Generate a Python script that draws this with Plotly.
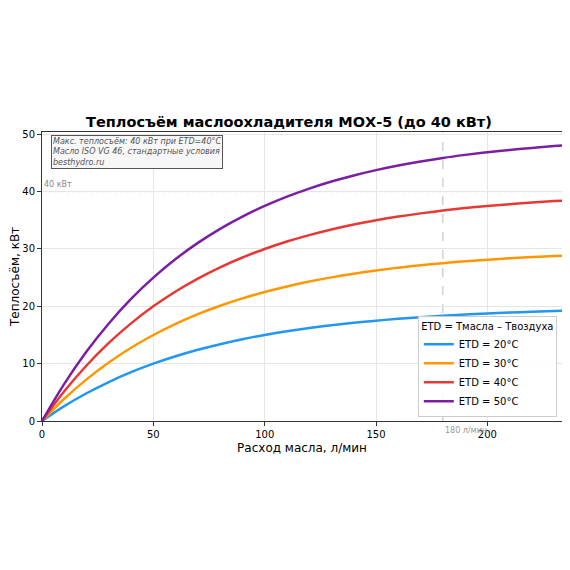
import plotly.graph_objects as go

# расход масла, л/мин
flow = [0, 10, 20, 30, 40, 50, 60, 70, 80, 90, 100, 110, 120, 130, 140,
        150, 160, 170, 180, 190, 200, 210, 220, 230, 235]

# теплосъём, кВт (по кривым с графика)
q_etd20 = [0, 2.59, 4.84, 6.80, 8.51, 10.0, 11.29, 12.42, 13.40, 14.26,
           15.0, 15.65, 16.21, 16.70, 17.13, 17.5, 17.82, 18.11, 18.35,
           18.56, 18.75, 18.91, 19.05, 19.18, 19.23]
q_etd30 = [0, 3.88, 7.26, 10.21, 12.77, 15.0, 16.94, 18.63, 20.10, 21.38,
           22.5, 23.47, 24.32, 25.05, 25.69, 26.25, 26.74, 27.16, 27.53,
           27.85, 28.13, 28.37, 28.58, 28.76, 28.85]
q_etd40 = [0, 5.18, 9.68, 13.61, 17.03, 20.0, 22.59, 24.84, 26.80, 28.51,
           30.0, 31.30, 32.42, 33.40, 34.26, 35.0, 35.65, 36.21, 36.70,
           37.13, 37.5, 37.82, 38.10, 38.35, 38.46]
q_etd50 = [0, 6.47, 12.11, 17.01, 21.29, 25.0, 28.24, 31.06, 33.51, 35.64,
           37.5, 39.12, 40.53, 41.76, 42.82, 43.75, 44.56, 45.26, 45.88,
           46.41, 46.88, 47.28, 47.63, 47.94, 48.08]

labels = ["ETD = 20°C", "ETD = 30°C", "ETD = 40°C", "ETD = 50°C"]
colors = ["#2196F3", "#FF9800", "#E53935", "#7B1FA2"]

max_power = 40
nominal_flow = 180

fig = go.Figure()

for q, name, color in zip([q_etd20, q_etd30, q_etd40, q_etd50], labels,
                          colors):
    fig.add_trace(
        go.Scatter(x=flow,
                   y=q,
                   mode="lines",
                   name=name,
                   line=dict(color=color, width=2.5, shape="spline")))

# линия максимального теплосъёма
fig.add_hline(y=max_power,
              line=dict(color="#aaaaaa", width=0.8, dash="dot"),
              layer="below")
fig.add_annotation(x=0,
                   y=max_power,
                   text="40 кВт",
                   showarrow=False,
                   xanchor="left",
                   yanchor="bottom",
                   xshift=0,
                   yshift=1,
                   font=dict(size=8, color="#888888"))

# номинальный расход
fig.add_vline(x=nominal_flow,
              line=dict(color="#bbbbbb", width=1, dash="dash"),
              layer="below")
fig.add_annotation(x=nominal_flow,
                   y=0,
                   text="180 л/мин",
                   showarrow=False,
                   xanchor="left",
                   yanchor="top",
                   xshift=0,
                   yshift=-3,
                   font=dict(size=8, color="#999999"))

fig.add_annotation(xref="paper",
                   yref="paper",
                   x=0.018,
                   y=0.988,
                   xanchor="left",
                   yanchor="top",
                   align="left",
                   showarrow=False,
                   text=("<i>Макс. теплосъём: 40 кВт при ETD=40°C<br>"
                         "Масло ISO VG 46, стандартные условия<br>"
                         "besthydro.ru</i>"),
                   font=dict(size=8, color="#555555"),
                   bgcolor="#f7f7f7",
                   bordercolor="#555555",
                   borderwidth=1,
                   borderpad=1)

fig.update_layout(
    width=562,
    height=562,
    paper_bgcolor="white",
    plot_bgcolor="white",
    font=dict(family="DejaVu Sans", color="black"),
    margin=dict(l=34, r=8, t=124, b=149, autoexpand=False),
    title=dict(text="<b>Теплосъём маслоохладителя МОХ-5 (до 40 кВт)</b>",
               x=0.5,
               xanchor="center",
               y=1 - 114 / 562,
               yanchor="middle",
               font=dict(size=14.5)),
    legend=dict(title=dict(text="ETD = Тмасла – Твоздуха",
                           font=dict(size=10),
                           side="top center"),
                font=dict(size=10),
                x=0.99,
                y=0.015,
                xanchor="right",
                yanchor="bottom",
                itemwidth=30,
                bgcolor="rgba(255,255,255,0.9)",
                bordercolor="#cccccc",
                borderwidth=1),
    showlegend=True,
)

fig.update_xaxes(range=[0, 233.5],
                 tickvals=[0, 50, 100, 150, 200],
                 automargin=False,
                 title=dict(text="Расход масла, л/мин",
                            font=dict(size=12),
                            standoff=4),
                 tickfont=dict(size=10),
                 showgrid=True,
                 gridcolor="#e6e6e6",
                 zeroline=False,
                 showline=True,
                 linecolor="#333333",
                 mirror=True,
                 ticks="outside",
                 ticklen=4,
                 tickcolor="#333333")
fig.update_yaxes(range=[0, 50.4],
                 tickvals=[0, 10, 20, 30, 40, 50],
                 automargin=False,
                 title=dict(text="Теплосъём, кВт",
                            font=dict(size=12),
                            standoff=4),
                 tickfont=dict(size=10),
                 showgrid=True,
                 gridcolor="#e6e6e6",
                 zeroline=False,
                 showline=True,
                 linecolor="#333333",
                 mirror=True,
                 ticks="outside",
                 ticklen=4,
                 tickcolor="#333333")

fig.write_html("out.html")
